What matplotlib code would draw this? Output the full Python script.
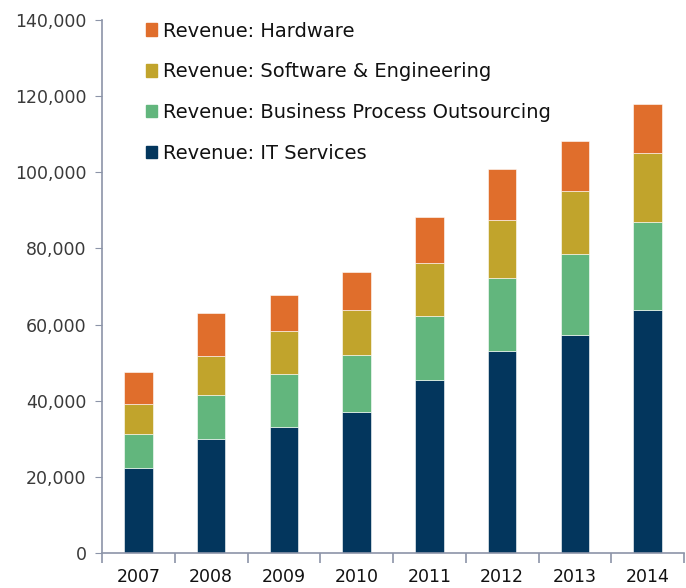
import matplotlib
matplotlib.use("Agg")
import matplotlib.pyplot as plt
from matplotlib.patches import Patch
import numpy as np

years = ["2007", "2008", "2009", "2010", "2011", "2012", "2013", "2014"]
it_services = [22400, 29900, 33100, 37000, 45400, 53100, 57300, 63800]
bpo = [8800, 11600, 13900, 14900, 16900, 19200, 21200, 23100]
software_eng = [7900, 10300, 11300, 11900, 13900, 15200, 16500, 18200]
hardware = [8500, 11200, 9400, 10000, 12000, 13300, 13100, 12800]

series_names = ["Revenue: IT Services", "Revenue: Business Process Outsourcing",
                "Revenue: Software & Engineering", "Revenue: Hardware"]
series_values = [it_services, bpo, software_eng, hardware]
colors = ["#03365d", "#62b67d", "#c1a42c", "#e06e2c"]

plt.rcParams['font.family'] = ['DejaVu Sans']

fig = plt.figure(figsize=(6.86, 5.88), dpi=100)
ax = fig.add_axes([102/686, 35/588, 582/686, 533/588])

x = np.arange(len(years))
bottom = np.zeros(len(years))
for name, vals, c in zip(series_names, series_values, colors):
    ax.bar(x, vals, width=0.39, bottom=bottom, color=c, edgecolor="white",
           linewidth=0.4, label=name)
    bottom += np.array(vals)

ax.set_xlim(-0.5, len(years) - 0.5)
ax.set_ylim(0, 140000)
ax.set_yticks(np.arange(0, 140001, 20000))
ax.set_yticklabels([f"{v:,}" for v in range(0, 140001, 20000)])
ax.set_xticks(x)
ax.set_xticklabels(years)
ax.set_xticks(np.arange(-0.5, len(years)), minor=True)

axis_col = "#8c94a8"
for s in ["top", "right"]:
    ax.spines[s].set_visible(False)
for s in ["left", "bottom"]:
    ax.spines[s].set_color(axis_col)
    ax.spines[s].set_linewidth(1.2)

ax.tick_params(axis="y", length=5, color=axis_col, labelsize=12.5,
               labelcolor="#3a3a3a", pad=6)
ax.tick_params(axis="x", which="major", length=0, labelsize=12.5,
               labelcolor="#111111", pad=11)
ax.tick_params(axis="x", which="minor", length=7, color=axis_col, width=1.2)

handles = [Patch(color=c, label=n) for n, c in zip(series_names, colors)][::-1]
leg = ax.legend(handles=handles, loc="upper left", bbox_to_anchor=(0.045, 1.03),
                frameon=False, fontsize=14, handlelength=0.6, handleheight=0.6,
                handletextpad=0.3, labelspacing=1.12)
for t in leg.get_texts():
    t.set_color("#111111")

fig.savefig("out.png", dpi=100)
